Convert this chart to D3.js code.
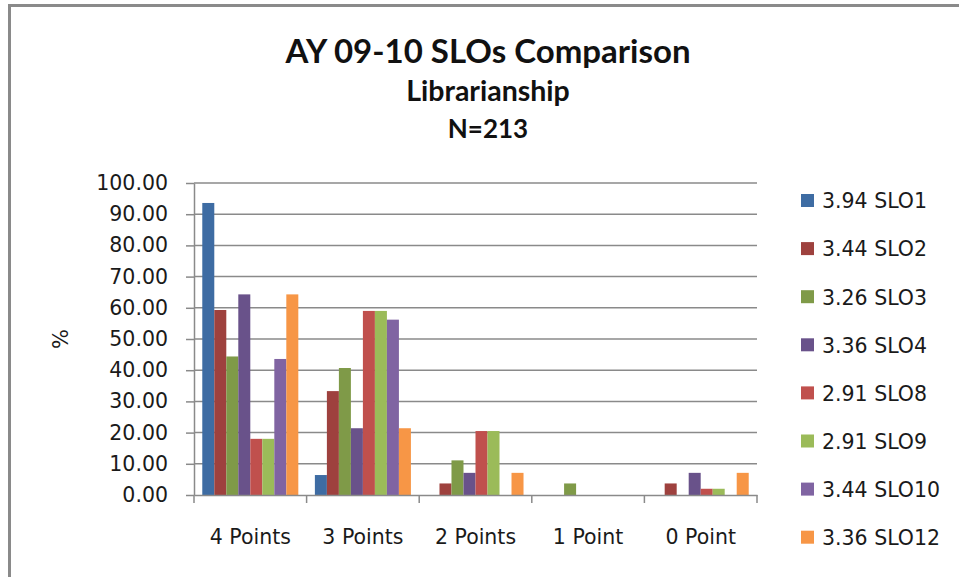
<!DOCTYPE html>
<html>
<head>
<meta charset="utf-8">
<script src="https://cdn.jsdelivr.net/npm/d3@7"></script>
<style>
  body { margin: 0; background: #fff; }
  svg { display: block; }
</style>
</head>
<body>
<svg id="chart"></svg>
<script>
const categories = ["4 Points", "3 Points", "2 Points", "1 Point", "0 Point"];
const seriesNames = ["3.94 SLO1", "3.44 SLO2", "3.26 SLO3", "3.36 SLO4",
    "2.91 SLO8", "2.91 SLO9", "3.44 SLO10", "3.36 SLO12"];
const slo1 = [93.6, 6.4, 0, 0, 0];
const slo2 = [59.3, 33.3, 3.7, 0, 3.7];
const slo3 = [44.4, 40.7, 11.1, 3.7, 0];
const slo4 = [64.3, 21.4, 7.1, 0, 7.1];
const slo8 = [18.0, 59.0, 20.5, 0, 2.0];
const slo9 = [18.0, 59.0, 20.5, 0, 2.0];
const slo10 = [43.6, 56.2, 0, 0, 0];
const slo12 = [64.3, 21.4, 7.1, 0, 7.1];
const yTicks = [0, 10, 20, 30, 40, 50, 60, 70, 80, 90, 100];

const seriesValues = [slo1, slo2, slo3, slo4, slo8, slo9, slo10, slo12];
const colors = ["#3E6CA3", "#9E413E", "#7F9A48", "#69528A",
    "#C0504D", "#9BBB59", "#8064A2", "#F79646"];

const width = 959, height = 577;
const plot = {left: 194, right: 757, top: 183, bottom: 495};
const textFont = "'DejaVu Sans', sans-serif";
const titleFont = "Lato, 'DejaVu Sans', sans-serif";
const grey = "#8a8a8a";

const svg = d3.select("#chart")
    .attr("width", width)
    .attr("height", height);

// chart frame
svg.append("rect")
    .attr("x", 9.5)
    .attr("y", 5.5)
    .attr("width", width + 20)
    .attr("height", height + 20)
    .attr("fill", "#fff")
    .attr("stroke", grey)
    .attr("stroke-width", 3);

const x0 = d3.scaleBand().domain(categories).range([plot.left, plot.right]).padding(0);
const x1 = d3.scaleBand().domain(seriesNames).range([0, x0.bandwidth()])
    .paddingInner(0).paddingOuter(0.69);
const y = d3.scaleLinear().domain([0, 100]).range([plot.bottom, plot.top]);
const color = d3.scaleOrdinal().domain(seriesNames).range(colors);

// gridlines
svg.append("g")
    .selectAll("line")
    .data(yTicks.filter(function (d) { return d > 0; }))
    .enter()
    .append("line")
    .attr("x1", plot.left)
    .attr("x2", plot.right)
    .attr("y1", function (d) { return y(d); })
    .attr("y2", function (d) { return y(d); })
    .attr("stroke", grey)
    .attr("stroke-width", 1.5);

// bars
const rows = [];
seriesNames.forEach(function (s, i) {
    categories.forEach(function (c, j) {
        rows.push({series: s, category: c, value: seriesValues[i][j]});
    });
});

svg.append("g")
    .selectAll("rect")
    .data(rows.filter(function (d) { return d.value > 0; }))
    .enter()
    .append("rect")
    .attr("x", function (d) { return x0(d.category) + x1(d.series); })
    .attr("width", x1.bandwidth())
    .attr("y", function (d) { return y(d.value); })
    .attr("height", function (d) { return y(0) - y(d.value); })
    .attr("fill", function (d) { return color(d.series); });

// y axis
const yAxis = svg.append("g")
    .attr("transform", `translate(${plot.left}, 0)`)
    .call(d3.axisLeft(y).tickValues(yTicks).tickFormat(d3.format(".2f"))
        .tickSize(8).tickSizeOuter(0).tickPadding(18));
yAxis.select(".domain").attr("stroke", grey).attr("stroke-width", 1.5);
yAxis.selectAll(".tick line").attr("stroke", grey).attr("stroke-width", 1.5);
yAxis.selectAll("text")
    .attr("fill", "#1a1a1a")
    .style("font-family", textFont)
    .style("font-size", "20.5px");

// x axis
const xAxis = svg.append("g")
    .attr("transform", `translate(0, ${plot.bottom})`)
    .call(d3.axisBottom(x0).tickSize(0).tickSizeOuter(0).tickPadding(34));
xAxis.select(".domain").attr("stroke", grey).attr("stroke-width", 1.5);
xAxis.selectAll("text")
    .attr("fill", "#1a1a1a")
    .style("font-family", textFont)
    .style("font-size", "20.5px");

// category boundary ticks
const bounds = categories.map(function (c) { return x0(c); }).concat([plot.right]);
svg.append("g")
    .selectAll("line")
    .data(bounds)
    .enter()
    .append("line")
    .attr("x1", function (d) { return d; })
    .attr("x2", function (d) { return d; })
    .attr("y1", plot.bottom)
    .attr("y2", plot.bottom + 8)
    .attr("stroke", grey)
    .attr("stroke-width", 1.5);

// y axis label
svg.append("text")
    .attr("transform", `translate(68, ${(plot.top + plot.bottom) / 2}) rotate(-90)`)
    .style("text-anchor", "middle")
    .style("font-family", textFont)
    .style("font-size", "21px")
    .attr("fill", "#1a1a1a")
    .text("%");

// titles
const titles = [
    {text: "AY 09-10 SLOs Comparison", size: 33, y: 63},
    {text: "Librarianship", size: 28.5, y: 101},
    {text: "N=213", size: 26, y: 138},
];
svg.append("g")
    .selectAll("text")
    .data(titles)
    .enter()
    .append("text")
    .attr("x", 488)
    .attr("y", function (d) { return d.y; })
    .style("text-anchor", "middle")
    .style("font-family", titleFont)
    .style("font-weight", "bold")
    .style("font-size", function (d) { return d.size + "px"; })
    .attr("fill", "#111")
    .text(function (d) { return d.text; });

// legend
const legend = svg.append("g")
    .selectAll("g")
    .data(seriesNames)
    .enter()
    .append("g")
    .attr("transform", function (d, i) {
        return `translate(801, ${201 + 48.1 * i})`;
    });

legend.append("rect")
    .attr("x", 0)
    .attr("y", -7)
    .attr("width", 13)
    .attr("height", 13)
    .attr("fill", function (d) { return color(d); });

legend.append("text")
    .attr("x", 21)
    .attr("dy", "0.36em")
    .style("font-family", textFont)
    .style("font-size", "20.5px")
    .attr("fill", "#1a1a1a")
    .text(function (d) { return d; });
</script>
</body>
</html>
